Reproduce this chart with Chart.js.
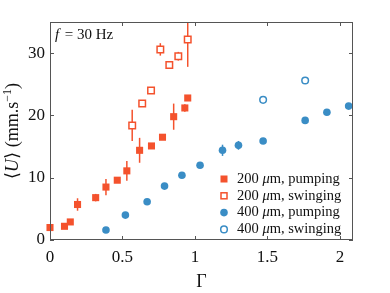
<!DOCTYPE html>
<html>
<head>
<meta charset="utf-8">
<script src="https://cdn.jsdelivr.net/npm/chart.js@4.4.1/dist/chart.umd.min.js"></script>
<style>
  html, body { margin: 0; padding: 0; background: #fff; }
  #wrap { width: 390px; height: 293px; }
</style>
</head>
<body>
<div id="wrap"><canvas id="chart"></canvas></div>
<script>
// 200 um, pumping
const gammaP200 = [0.0, 0.10, 0.14, 0.19, 0.315, 0.386, 0.464, 0.53, 0.618, 0.70, 0.776, 0.853, 0.93, 0.95];
const uP200     = [2.0, 2.2, 2.9, 5.7, 6.8, 8.5, 9.6, 11.1, 14.4, 15.1, 16.5, 19.8, 21.2, 22.8];
const errP200   = [0.3, 0.3, 0.3, 1.0, 0.6, 1.3, 0.3, 1.6, 2.0, 0.3, 0.3, 2.1, 0.6, 0.3];

// 200 um, swinging
const gammaS200 = [0.567, 0.636, 0.697, 0.761, 0.823, 0.885, 0.95];
const uS200     = [18.4, 21.9, 24.0, 30.6, 28.1, 29.5, 32.2];
const errS200   = [2.5, 0.3, 0.3, 1.0, 0.6, 0.7, 4.4];

// 400 um, pumping
const gammaP400 = [0.386, 0.52, 0.67, 0.79, 0.91, 1.035, 1.19, 1.30, 1.47, 1.76, 1.91, 2.06];
const uP400     = [1.6, 4.0, 6.15, 8.65, 10.4, 12.0, 14.4, 15.2, 15.9, 19.2, 20.5, 21.5];
const errP400   = [0.4, 0.3, 0.3, 0.3, 0.3, 0.3, 0.9, 0.7, 0.3, 0.3, 0.3, 0.3];

// 400 um, swinging
const gammaS400 = [1.47, 1.76];
const uS400     = [22.5, 25.6];
const errS400   = [0.3, 0.3];

const xTicks = [0, 0.5, 1, 1.5, 2];
const yTicks = [0, 10, 20, 30];

const RED = '#f4522d';
const BLUE = '#3a8dc5';
const FONT = '"Liberation Serif", "DejaVu Serif", serif';

function toPoints(xs, ys, es) {
    return xs.map((x, i) => ({ x: x, y: ys[i], err: es[i] }));
}

const datasets = [
    {
        label: '200 μm, pumping',
        data: toPoints(gammaP200, uP200, errP200),
        pointStyle: 'rect', pointRadius: 5,
        backgroundColor: RED, borderColor: RED, borderWidth: 0, clip: false
    },
    {
        label: '200 μm, swinging',
        data: toPoints(gammaS200, uS200, errS200),
        pointStyle: 'rect', pointRadius: 4.6,
        backgroundColor: '#fff', borderColor: RED, borderWidth: 1.5, clip: false
    },
    {
        label: '400 μm, pumping',
        data: toPoints(gammaP400, uP400, errP400),
        pointStyle: 'circle', pointRadius: 3.8,
        backgroundColor: BLUE, borderColor: BLUE, borderWidth: 0, clip: false
    },
    {
        label: '400 μm, swinging',
        data: toPoints(gammaS400, uS400, errS400),
        pointStyle: 'circle', pointRadius: 3.3,
        backgroundColor: '#fff', borderColor: BLUE, borderWidth: 1.5, clip: false
    }
];

/**
 * Error bars, frame with inward ticks, annotation and legend
 */
const decorPlugin = {
    id: 'decor',
    beforeDatasetsDraw(chart) {
        const ctx = chart.ctx;
        const xs = chart.scales.x, ys = chart.scales.y;
        const area = chart.chartArea;
        ctx.save();
        ctx.beginPath();
        ctx.rect(area.left, area.top, area.right - area.left, area.bottom - area.top);
        ctx.clip();
        chart.data.datasets.forEach(ds => {
            ctx.strokeStyle = ds.borderColor;
            ctx.lineWidth = 1.5;
            ds.data.forEach(p => {
                const px = xs.getPixelForValue(p.x);
                ctx.beginPath();
                ctx.moveTo(px, ys.getPixelForValue(p.y - p.err));
                ctx.lineTo(px, ys.getPixelForValue(p.y + p.err));
                ctx.stroke();
            });
        });
        ctx.restore();
    },
    afterDraw(chart) {
        const ctx = chart.ctx;
        const xs = chart.scales.x, ys = chart.scales.y;
        const a = chart.chartArea;
        ctx.save();
        ctx.strokeStyle = '#555';
        ctx.lineWidth = 1;
        ctx.strokeRect(a.left + 0.5, a.top + 0.5, a.right - a.left - 1, a.bottom - a.top - 1);
        const t = 4;
        ctx.beginPath();
        xTicks.forEach(v => {
            const px = Math.round(xs.getPixelForValue(v)) + 0.5;
            ctx.moveTo(px, a.bottom); ctx.lineTo(px, a.bottom - t);
            ctx.moveTo(px, a.top); ctx.lineTo(px, a.top + t);
        });
        yTicks.forEach(v => {
            const py = Math.round(ys.getPixelForValue(v)) + 0.5;
            ctx.moveTo(a.left, py); ctx.lineTo(a.left + t, py);
            ctx.moveTo(a.right, py); ctx.lineTo(a.right - t, py);
        });
        ctx.stroke();

        // f = 30 Hz
        ctx.fillStyle = '#111';
        ctx.textBaseline = 'alphabetic';
        ctx.textAlign = 'left';
        ctx.font = 'italic 15px ' + FONT;
        ctx.fillText('f', a.left + 5, a.top + 17);
        ctx.font = '15px ' + FONT;
        ctx.fillText(' = 30 Hz', a.left + 11, a.top + 17);

        // y axis title with italic U
        ctx.save();
        ctx.translate(18, (a.top + a.bottom) / 2);
        ctx.rotate(-Math.PI / 2);
        const parts = [['⟨', ''], ['U', 'italic '], ['⟩ (mm.s', ''], ['−1', 'sup'], [')', '']];
        let total = 0;
        parts.forEach(p => {
            ctx.font = (p[1] === 'sup' ? '12px ' : p[1] + '18px ') + FONT;
            total += ctx.measureText(p[0]).width;
        });
        let cx = -total / 2;
        parts.forEach(p => {
            ctx.font = (p[1] === 'sup' ? '12px ' : p[1] + '18px ') + FONT;
            ctx.fillText(p[0], cx, p[1] === 'sup' ? -7 : 0);
            cx += ctx.measureText(p[0]).width;
        });
        ctx.restore();

        // legend
        const lx = 224, ly0 = 179, step = 16.8;
        chart.data.datasets.forEach((ds, i) => {
            const y = ly0 + i * step;
            ctx.fillStyle = ds.backgroundColor;
            ctx.strokeStyle = ds.borderColor;
            ctx.lineWidth = ds.borderWidth;
            if (ds.pointStyle === 'rect') {
                const s = ds.borderWidth ? 6 : 7;
                ctx.fillRect(lx - s / 2, y - s / 2, s, s);
                if (ds.borderWidth) ctx.strokeRect(lx - s / 2, y - s / 2, s, s);
            } else {
                ctx.beginPath();
                ctx.arc(lx, y, ds.borderWidth ? 3.3 : 3.8, 0, Math.PI * 2);
                ctx.fill();
                if (ds.borderWidth) ctx.stroke();
            }
            const words = ds.label.split(' ');
            ctx.fillStyle = '#111';
            ctx.textBaseline = 'middle';
            let tx = lx + 13;
            ctx.font = '14.5px ' + FONT;
            ctx.fillText(words[0] + ' ', tx, y);
            tx += ctx.measureText(words[0] + ' ').width;
            ctx.font = 'italic 14.5px ' + FONT;
            ctx.fillText('μ', tx, y);
            tx += ctx.measureText('μ').width;
            ctx.font = '14.5px ' + FONT;
            ctx.fillText(words.slice(1).join(' ').slice(1), tx, y);
        });
        ctx.restore();
    }
};

new Chart(document.getElementById('chart'), {
    type: 'scatter',
    data: { datasets: datasets },
    options: {
        responsive: true,
        maintainAspectRatio: false,
        animation: false,
        layout: { padding: { top: 22, right: 37, left: 0, bottom: 0 } },
        plugins: {
            legend: { display: false },
            tooltip: { enabled: false }
        },
        scales: {
            x: {
                type: 'linear',
                min: 0, max: 2.09,
                afterBuildTicks: axis => { axis.ticks = xTicks.map(v => ({ value: v })); },
                afterFit: axis => { axis.height = 53; },
                grid: { display: false, drawTicks: false },
                border: { display: false },
                ticks: {
                    padding: 7,
                    color: '#111',
                    font: { family: FONT, size: 17 },
                    callback: v => String(v)
                },
                title: {
                    display: true,
                    text: 'Γ',
                    color: '#111',
                    font: { family: FONT, size: 18 },
                    padding: { top: 1, bottom: 0 }
                }
            },
            y: {
                type: 'linear',
                min: 0, max: 35,
                afterBuildTicks: axis => { axis.ticks = yTicks.map(v => ({ value: v })); },
                afterFit: axis => { axis.width = 50; },
                grid: { display: false, drawTicks: false },
                border: { display: false },
                ticks: {
                    padding: 5,
                    color: '#111',
                    font: { family: FONT, size: 17 },
                    callback: v => String(v)
                }
            }
        }
    },
    plugins: [decorPlugin]
});
</script>
</body>
</html>
